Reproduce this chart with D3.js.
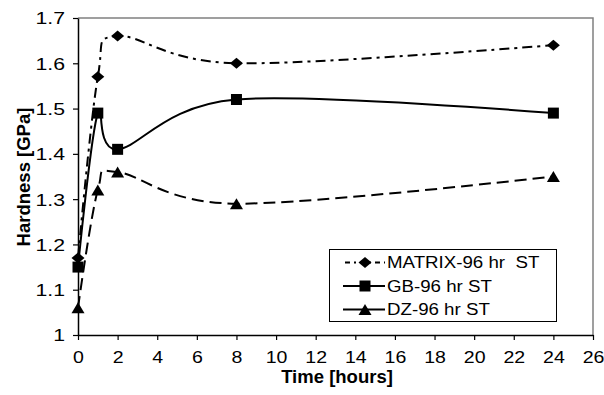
<!DOCTYPE html>
<html>
<head>
<meta charset="utf-8">
<script src="https://cdn.jsdelivr.net/npm/d3@7"></script>
<style>
  html, body { margin: 0; padding: 0; background: #fff; }
  svg text { font-family: "Liberation Sans", Arial, sans-serif; fill: #000; white-space: pre; }
</style>
</head>
<body>
<svg id="chart" width="604" height="395"></svg>
<script>
// Hardness vs. time, 96 hr solution treatment
const hours = [0, 1, 2, 8, 24];
const matrixHardness = [1.17, 1.57, 1.66, 1.60, 1.64];
const gbHardness = [1.15, 1.49, 1.41, 1.52, 1.49];
const dzHardness = [1.06, 1.32, 1.36, 1.29, 1.35];

const xTicks = [0, 2, 4, 6, 8, 10, 12, 14, 16, 18, 20, 22, 24, 26];
const yTicks = [1, 1.1, 1.2, 1.3, 1.4, 1.5, 1.6, 1.7];

const seriesNames = ["MATRIX-96 hr  ST", "GB-96 hr ST", "DZ-96 hr ST"];

// marker shapes (half-width w, half-height h)
const diamond = { draw(ctx) { const w = 6.5, h = 5.5; ctx.moveTo(0, -h); ctx.lineTo(w, 0); ctx.lineTo(0, h); ctx.lineTo(-w, 0); ctx.closePath(); } };
const square = { draw(ctx) { const s = 5.5; ctx.rect(-s, -s, 2 * s, 2 * s); } };
const triangle = { draw(ctx) { const w = 6.5, h = 5.5; ctx.moveTo(0, -h); ctx.lineTo(w, h); ctx.lineTo(-w, h); ctx.closePath(); } };

const series = [
  { name: seriesNames[0], values: matrixHardness, dash: "10,5,3,5", legendDash: "5,4,2,4", symbol: diamond },
  { name: seriesNames[1], values: gbHardness, dash: null, legendDash: null, symbol: square },
  { name: seriesNames[2], values: dzHardness, dash: "12,6", legendDash: null, symbol: triangle }
];

const svg = d3.select("#chart");
const W = 604, H = 395;
const margin = { left: 78, right: 11, top: 18, bottom: 60 };

const x = d3.scaleLinear().domain([0, 26]).range([margin.left, W - margin.right]);
const y = d3.scaleLinear().domain([1, 1.7]).range([H - margin.bottom, margin.top]);

// plot frame (top and right edges)
svg.append("path")
  .attr("d", `M${x(0)},${y(1.7)}H${x(26)}V${y(1)}`)
  .attr("fill", "none").attr("stroke", "#808080").attr("stroke-width", 1.5);

// axes
const xAxis = d3.axisBottom(x).tickValues(xTicks).tickSize(5).tickSizeOuter(0).tickFormat(d3.format("d"));
const yAxis = d3.axisLeft(y).tickValues(yTicks).tickSize(5).tickSizeOuter(0)
  .tickFormat(d => d === 1 ? "1" : d3.format(".1f")(d));

const gx = svg.append("g").attr("transform", `translate(0,${y(1)})`).call(xAxis);
const gy = svg.append("g").attr("transform", `translate(${x(0)},0)`).call(yAxis);
[gx, gy].forEach(g => {
  g.select(".domain").attr("stroke", "#000").attr("stroke-width", 1.5);
  g.selectAll(".tick line").attr("stroke", "#000").attr("stroke-width", 1.2);
  g.selectAll(".tick text").attr("font-size", 17).attr("fill", "#000");
});
gx.selectAll(".tick text").attr("y", 0).attr("dy", 0)
  .attr("transform", "translate(0,28) scale(1.15,1)");
gy.selectAll(".tick text").attr("x", 0).attr("dy", "0.35em")
  .attr("transform", "translate(-13,0) scale(1.25,1)");

// axis titles
svg.append("text").attr("x", 337).attr("y", 382.5).attr("text-anchor", "middle")
  .attr("font-size", 18.5).attr("font-weight", "bold").text("Time [hours]");
svg.append("text").attr("transform", "translate(30,177) rotate(-90)").attr("text-anchor", "middle")
  .attr("font-size", 18.5).attr("font-weight", "bold").text("Hardness [GPa]");

// smoothed series lines
const line = d3.line().x(d => x(d[0])).y(d => y(d[1])).curve(d3.curveCardinal.tension(0));

series.forEach(s => {
  const pts = hours.map((h, i) => [h, s.values[i]]);
  svg.append("path").datum(pts).attr("d", line)
    .attr("fill", "none").attr("stroke", "#000").attr("stroke-width", 2)
    .attr("stroke-dasharray", s.dash);
  svg.append("g").selectAll("path").data(pts).join("path")
    .attr("transform", d => `translate(${x(d[0])},${y(d[1])})`)
    .attr("d", d3.symbol().type(s.symbol)).attr("fill", "#000");
});

// legend
const lg = svg.append("g");
lg.append("rect").attr("x", 329.5).attr("y", 249.5).attr("width", 227).attr("height", 72)
  .attr("fill", "#fff").attr("stroke", "#000").attr("stroke-width", 1);
series.forEach((s, i) => {
  const cy = 262.5 + i * 23.5;
  lg.append("line").attr("x1", s.legendDash ? 345 : 343).attr("x2", 385).attr("y1", cy).attr("y2", cy)
    .attr("stroke", "#000").attr("stroke-width", 2).attr("stroke-dasharray", s.legendDash);
  lg.append("path").attr("transform", `translate(365,${cy})`)
    .attr("d", d3.symbol().type(s.symbol)).attr("fill", "#000");
  lg.append("text").attr("transform", `translate(387,${cy}) scale(1.1,1)`)
    .attr("dy", "0.35em").attr("font-size", 17).text(s.name);
});
</script>
</body>
</html>
